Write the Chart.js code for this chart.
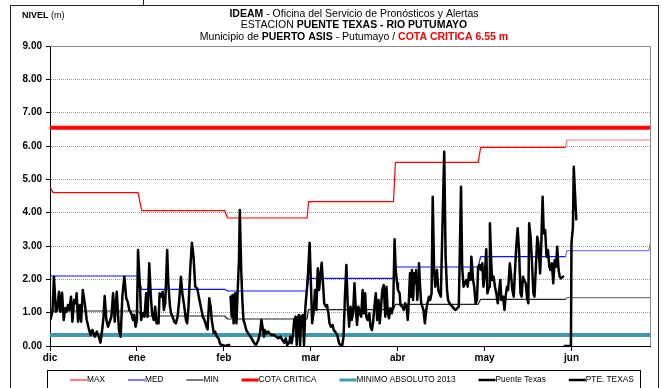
<!DOCTYPE html>
<html>
<head>
<meta charset="utf-8">
<title>Nivel Puente Texas</title>
<script src="https://cdn.jsdelivr.net/npm/chart.js@4.4.1/dist/chart.umd.min.js"></script>
<style>
  html, body { margin: 0; padding: 0; background: #fff; }
  #wrap { width: 662px; height: 388px; position: relative; }
</style>
</head>
<body>
<div id="wrap"><canvas id="nivelChart"></canvas></div>
<script>
// x is the day index counted from 1 Dec; a label every 31 days
const monthLabels = ['dic', 'ene', 'feb', 'mar', 'abr', 'may', 'jun'];
const monthTicks = [0, 31, 62, 93, 124, 155, 186];
const lastDay = 214;

const cotaCritica = 6.55;
const minimoAbsoluto2013 = 0.33;

// historic monthly levels as [day, m]
const maxLevels = [[0, 4.76], [1.1, 4.60], [31.4, 4.60], [32.7, 4.06], [62.3, 4.06], [63.3, 3.84],
  [91.7, 3.84], [92.2, 4.33], [122.5, 4.33], [123.2, 5.51], [152.7, 5.51], [153.6, 5.96],
  [183.9, 5.96], [184.3, 6.18], [214, 6.18]];
const medLevels = [[0, 2.10], [31.4, 2.10], [32.7, 1.70], [62.3, 1.70], [63.3, 1.65],
  [91.7, 1.65], [92.2, 2.03], [122.5, 2.03], [123.2, 2.37], [152.7, 2.37], [153.6, 2.68],
  [183.9, 2.68], [184.3, 2.86], [213.6, 2.86], [214, 3.05]];
const minLevels = [[0, 1.13], [1.1, 1.05], [31.4, 1.05], [32.7, 0.90], [62.3, 0.90], [63.3, 0.81],
  [91.7, 0.81], [92.2, 1.09], [122.5, 1.09], [123.2, 1.25], [152.7, 1.25], [153.6, 1.40],
  [183.9, 1.40], [184.3, 1.45], [214, 1.45]];

// station readings [day, m]; null = no data
const puenteTexas = [
  [0.2, 0.80], [0.9, 1.05], [1.4, 2.08], [2.1, 1.03], [2.6, 1.10], [3.2, 1.63], [3.7, 1.03], [4.3, 1.60],
  [4.9, 0.78], [5.4, 1.13], [5.9, 1.03], [6.4, 1.23], [6.9, 1.08], [7.5, 1.48], [8.0, 0.73], [8.6, 1.38],
  [9.1, 1.28], [9.5, 1.58], [10.0, 0.73], [10.6, 1.23], [11.1, 0.73], [11.7, 1.68], [12.4, 1.28], [13.1, 0.78],
  [13.8, 0.53], [14.5, 0.33], [15.1, 0.48], [16.0, 0.28], [16.7, 0.43], [17.4, 0.28], [18.0, 0.10], [18.6, 0.48],
  [19.1, 0.88], [19.5, 1.50], [20.1, 0.78], [20.7, 0.58], [21.5, 0.78], [21.9, 0.88], [22.5, 1.58], [23.1, 0.73],
  [23.8, 1.63], [24.6, 0.48], [25.2, 0.28], [25.8, 1.48], [26.5, 2.08], [27.2, 1.43], [27.7, 1.33], [28.3, 1.08],
  [29.0, 0.98], [29.6, 0.78], [30.0, 0.93], [30.5, 0.58], [31.0, 0.78], [31.4, 2.88],
  [32.2, 1.58], [32.5, 0.78], [33.1, 0.98], [33.7, 0.88], [34.3, 1.58], [34.8, 0.88], [35.4, 2.48], [35.9, 1.58],
  [36.4, 0.98], [37.0, 0.78], [37.5, 1.18], [38.0, 0.68], [38.7, 0.68], [39.1, 1.58], [39.6, 1.48], [40.2, 1.63],
  [40.6, 1.08], [41.1, 1.28], [41.8, 2.88], [42.2, 1.88], [42.8, 1.18], [43.2, 0.98], [43.7, 0.88], [44.3, 0.73],
  [44.9, 0.68], [45.5, 0.88], [46.1, 1.38], [46.7, 2.08], [47.2, 1.58], [47.9, 1.18], [48.5, 0.78], [48.9, 0.68],
  [49.4, 1.18], [50.0, 2.28], [50.6, 3.10], [51.2, 2.68], [51.8, 1.78], [52.5, 1.73], [53.3, 1.38], [53.9, 1.13],
  [54.5, 0.88], [55.1, 0.78], [55.8, 0.58], [56.2, 0.50], [56.8, 1.43], [57.3, 1.18], [57.7, 0.78], [58.4, 0.38],
  [58.9, 0.43], [59.5, 0.28], [60.1, 0.23], [60.7, 0.06], [61.3, 0.03], [62.5, 0.00], [63.7, 0.03], [63.9, 0.03],
  [64.1, null],
  [64.4, 1.48], [64.8, 0.88], [65.1, 1.53], [65.5, 0.68], [66.0, 1.58], [66.5, 0.68], [66.9, 1.58], [67.4, 2.58],
  [67.7, 4.08], [68.2, 2.28], [68.6, 1.38], [69.0, 0.78], [69.4, 0.68], [70.0, 0.48], [70.7, 0.38], [71.5, 0.28],
  [72.2, 0.18], [72.9, 0.08], [73.5, 0.03], [74.3, 0.18], [74.9, 0.38], [75.4, 0.78], [75.8, 0.58], [76.3, 0.28],
  [76.6, 0.48], [77.2, 0.38], [77.8, 0.43], [78.3, 0.38], [79.0, 0.33], [79.9, 0.33], [80.7, 0.28], [81.4, 0.23],
  [82.2, 0.28], [82.9, 0.18], [83.6, 0.10], [84.1, 0.23], [84.6, 0.03], [85.3, 0.10], [85.7, 0.28], [86.2, 0.08],
  [86.7, 0.38], [87.1, 0.78], [87.6, 0.88], [88.0, 0.03], [88.5, 0.88], [88.8, 0.93], [89.2, 0.03], [89.6, 0.88],
  [90.2, 0.93], [90.6, 0.03], [91.1, 1.18], [91.7, 1.78], [92.1, 2.28], [92.6, 3.10],
  [93.5, 0.68], [94.1, 1.08], [94.5, 1.68], [95.0, 1.08], [95.5, 2.33], [96.0, 1.68], [96.4, 2.08], [96.9, 2.50],
  [97.3, 1.98], [97.8, 1.28], [98.4, 1.18], [98.8, 1.23], [99.3, 0.98], [99.7, 0.68], [100.2, 0.58], [100.8, 0.63],
  [101.2, 0.48], [101.7, 0.43], [102.1, 0.38], [102.6, 0.28], [103.1, 0.08], [103.6, 0.03], [104.2, 0.00], [104.7, 0.28],
  [105.2, 1.48], [105.7, 2.43], [106.2, 1.23], [106.7, 0.58], [107.2, 1.18], [107.6, 0.78], [108.1, 0.98], [108.6, 1.88],
  [109.1, 1.08], [109.5, 0.63], [110.0, 1.18], [110.5, 0.98], [111.0, 0.88], [111.5, 1.68], [111.9, 0.98], [112.4, 1.58],
  [112.8, 0.88], [113.3, 0.78], [113.9, 0.98], [114.3, 0.58], [114.8, 0.48], [115.2, 0.68], [115.7, 1.18], [116.2, 1.58],
  [116.7, 0.78], [117.2, 1.38], [117.6, 0.68], [118.1, 1.18], [118.5, 1.68], [119.0, 1.83], [119.6, 0.88], [120.0, 1.78],
  [120.5, 0.98], [120.9, 0.83], [121.4, 1.13], [121.9, 0.98], [122.4, 1.18], [122.9, 3.20], [123.3, 2.28],
  [123.8, 1.88], [124.1, 1.68], [124.7, 1.58], [125.0, 1.23], [125.6, 1.18], [126.2, 1.08], [126.7, 1.28], [127.2, 1.18],
  [127.6, 0.78], [128.0, 1.38], [128.4, 2.18], [128.8, 1.48], [129.1, 2.28], [129.5, 1.38], [129.9, 2.18], [130.3, 1.88],
  [130.6, 2.28], [131.0, 1.38], [131.3, 1.88], [131.6, 2.48], [132.0, 1.78], [132.4, 1.28], [132.8, 1.18], [133.2, 1.08],
  [133.7, 0.68], [134.2, 1.08], [134.6, 1.28], [135.2, 1.48], [135.6, 1.38], [136.1, 1.58], [136.5, 4.48], [137.0, 2.28],
  [137.4, 1.78], [138.0, 2.28], [138.5, 1.68], [138.9, 1.58], [139.4, 1.48], [140.6, 5.83], [141.1, 2.68], [141.6, 1.68],
  [142.0, 1.38], [142.5, 1.28], [143.0, 1.23], [143.5, 1.18], [144.0, 1.13], [144.6, 1.08], [145.2, 1.13], [145.8, 1.18],
  [146.6, 4.78], [147.0, 2.38], [147.5, 1.78], [148.0, 1.88], [148.5, 1.98], [149.0, 1.78], [149.4, 2.18], [150.0, 1.98],
  [150.3, 2.68], [150.9, 1.98], [151.3, 1.78], [151.8, 1.28], [152.3, 1.38], [152.7, 2.38], [153.2, 2.43], [153.7, 2.28],
  [154.2, 2.48], [154.6, 1.78], [155.1, 2.18], [155.6, 2.90], [156.0, 1.58], [156.6, 1.78], [156.9, 3.68],
  [157.4, 2.48], [157.7, 1.98], [158.2, 2.08], [158.7, 1.78], [159.2, 1.58], [159.7, 1.28], [160.1, 1.58], [160.6, 1.98],
  [161.0, 1.38], [161.6, 1.48], [162.1, 1.08], [162.5, 1.48], [163.0, 1.78], [163.4, 1.68], [164.0, 2.48], [164.4, 2.18],
  [164.9, 1.68], [165.4, 1.48], [165.8, 2.18], [166.3, 2.98], [166.8, 3.53], [167.3, 2.88], [167.8, 1.58], [168.2, 1.48],
  [168.7, 2.08], [169.1, 1.98], [169.7, 1.88], [170.1, 1.48], [170.6, 1.28], [170.9, 3.68], [171.4, 3.28], [171.8, 2.68],
  [172.4, 1.58], [172.8, 1.48], [173.3, 2.38], [173.8, 3.28], [174.2, 3.08], [174.8, 2.18], [175.2, 2.98], [175.7, 4.48],
  [176.1, 3.38], [176.6, 3.48], [177.1, 2.68], [177.6, 2.88], [178.1, 2.38], [178.5, 2.28], [179.0, 2.48], [179.5, 1.88],
  [180.0, 2.58], [180.5, 2.38], [180.9, 2.98], [181.4, 2.28], [181.8, 2.08], [182.3, 2.03], [183.0, 2.08]
];
const pteTexas = [[183.6, 0.00], [185.8, 0.00], [186.0, 3.10], [186.5, 3.55], [186.8, 5.38], [187.7, 3.80]];

const FONT = '"Liberation Sans", Arial, Helvetica, sans-serif';
const JUN_START = 183.9;

// darker colour for the part of the historic lines before June
function beforeJun(dark) {
  return ctx => (ctx.p0.parsed.x < JUN_START ? dark : undefined);
}

function flat(value) {
  return [[0, value], [lastDay, value]];
}

const titleLines = [
  [['IDEAM', true], [' - Oficina del Servicio de Pronósticos y Alertas', false]],
  [['ESTACION ', false], ['PUENTE TEXAS - RIO PUTUMAYO', true]],
  [['Municipio de ', false], ['PUERTO ASIS', true], [' - Putumayo / ', false],
   ['COTA CRITICA ' + cotaCritica.toFixed(2) + ' m', true, '#ff0000']]
];

const chartDecor = {
  id: 'chartDecor',
  beforeDraw(chart) {
    const ctx = chart.ctx;
    ctx.save();
    ctx.fillStyle = '#fff';
    ctx.fillRect(0, 0, chart.width, chart.height);
    ctx.strokeStyle = '#222';
    ctx.lineWidth = 1;
    ctx.strokeRect(10.5, 5.5, 648, 420);
    ctx.beginPath();
    ctx.moveTo(143.5, 0);
    ctx.lineTo(143.5, 5);
    ctx.stroke();
    ctx.restore();
  },
  beforeDatasetsDraw(chart) {
    const {ctx, chartArea: a} = chart;
    ctx.save();
    ctx.strokeStyle = '#8c8c8c';
    ctx.lineWidth = 1;
    ctx.beginPath();
    ctx.moveTo(a.left, Math.round(a.top) + 0.5);
    ctx.lineTo(Math.round(a.right) + 0.5, Math.round(a.top) + 0.5);
    ctx.lineTo(Math.round(a.right) + 0.5, a.bottom);
    ctx.stroke();
    ctx.restore();
  },
  afterDraw(chart) {
    const ctx = chart.ctx;
    ctx.save();
    ctx.textBaseline = 'middle';

    // title, centred, bold/normal pieces
    const size = 10.5;
    titleLines.forEach((parts, i) => {
      let total = 0;
      parts.forEach(p => {
        ctx.font = (p[1] ? 'bold ' : '') + size + 'px ' + FONT;
        total += ctx.measureText(p[0]).width;
      });
      let x = 354 - total / 2;
      const y = 14 + i * 11.5;
      parts.forEach(p => {
        ctx.font = (p[1] ? 'bold ' : '') + size + 'px ' + FONT;
        ctx.fillStyle = p[2] || '#000';
        ctx.fillText(p[0], x, y);
        x += ctx.measureText(p[0]).width;
      });
    });

    // axis caption
    ctx.fillStyle = '#000';
    ctx.font = 'bold 9px ' + FONT;
    ctx.fillText('NIVEL', 22, 16);
    const w = ctx.measureText('NIVEL ').width;
    ctx.font = '9px ' + FONT;
    ctx.fillText('(m)', 22 + w, 16);

    // legend box
    ctx.strokeStyle = '#000';
    ctx.lineWidth = 1;
    ctx.strokeRect(47.5, 370.5, 593, 40);
    ctx.font = '8.3px ' + FONT;
    let lx = 70;
    const ly = 380;
    chart.data.datasets.forEach(ds => {
      ctx.strokeStyle = ds.borderColor;
      ctx.lineWidth = Math.min(3, Math.max(2, ds.borderWidth));
      ctx.beginPath();
      ctx.moveTo(lx, ly);
      ctx.lineTo(lx + 17, ly);
      ctx.stroke();
      ctx.fillStyle = '#000';
      ctx.fillText(ds.label, lx + 17, ly);
      lx += 17 + ctx.measureText(ds.label).width + 23;
    });
    ctx.restore();
  }
};

const lineBase = {pointRadius: 0, tension: 0, fill: false, borderJoinStyle: 'round', borderCapStyle: 'round'};

new Chart(document.getElementById('nivelChart'), {
  type: 'line',
  data: {
    datasets: [
      {...lineBase, label: 'MAX', data: maxLevels, borderColor: '#ff7a7a', borderWidth: 1.2,
        segment: {borderColor: beforeJun('#ff0000')}, order: 6},
      {...lineBase, label: 'MED', data: medLevels, borderColor: '#7a7aff', borderWidth: 1.2,
        segment: {borderColor: beforeJun('#1010ff')}, order: 5},
      {...lineBase, label: 'MIN', data: minLevels, borderColor: '#7a7a7a', borderWidth: 1.2,
        segment: {borderColor: beforeJun('#222222')}, order: 4},
      {...lineBase, label: 'COTA CRITICA', data: flat(cotaCritica), borderColor: '#ff0000', borderWidth: 4, order: 3},
      {...lineBase, label: 'MINIMO ABSOLUTO 2013', data: flat(minimoAbsoluto2013), borderColor: '#3f98ae', borderWidth: 4, order: 2},
      {...lineBase, label: 'Puente Texas', data: puenteTexas, borderColor: '#000', borderWidth: 2.5, spanGaps: false, order: 1},
      {...lineBase, label: 'PTE. TEXAS', data: pteTexas, borderColor: '#000', borderWidth: 2.5, order: 0}
    ]
  },
  options: {
    responsive: true,
    maintainAspectRatio: false,
    animation: false,
    events: [],
    layout: {padding: {left: 0, right: 12, top: 46, bottom: 0}},
    plugins: {legend: {display: false}, tooltip: {enabled: false}},
    scales: {
      x: {
        type: 'linear',
        min: 0,
        max: lastDay,
        afterBuildTicks: scale => { scale.ticks = monthTicks.map(v => ({value: v})); },
        afterFit: scale => { scale.height = 42; },
        grid: {drawOnChartArea: false, drawTicks: true, tickLength: 5, tickColor: '#000'},
        border: {color: '#000', width: 1},
        ticks: {
          callback: v => monthLabels[monthTicks.indexOf(v)],
          font: {family: FONT, size: 10, weight: 'bold'},
          color: '#000',
          padding: 1,
          maxRotation: 0,
          autoSkip: false
        }
      },
      y: {
        min: 0,
        max: 9,
        afterFit: scale => { scale.width = 50; },
        grid: {color: '#9a9a9a', tickColor: '#000', tickLength: 4},
        border: {color: '#000', width: 1, dash: [1, 1]},
        ticks: {
          stepSize: 1,
          callback: v => v.toFixed(2),
          font: {family: FONT, size: 10, weight: 'bold'},
          color: '#000',
          padding: 4
        }
      }
    }
  },
  plugins: [chartDecor]
});
</script>
</body>
</html>
